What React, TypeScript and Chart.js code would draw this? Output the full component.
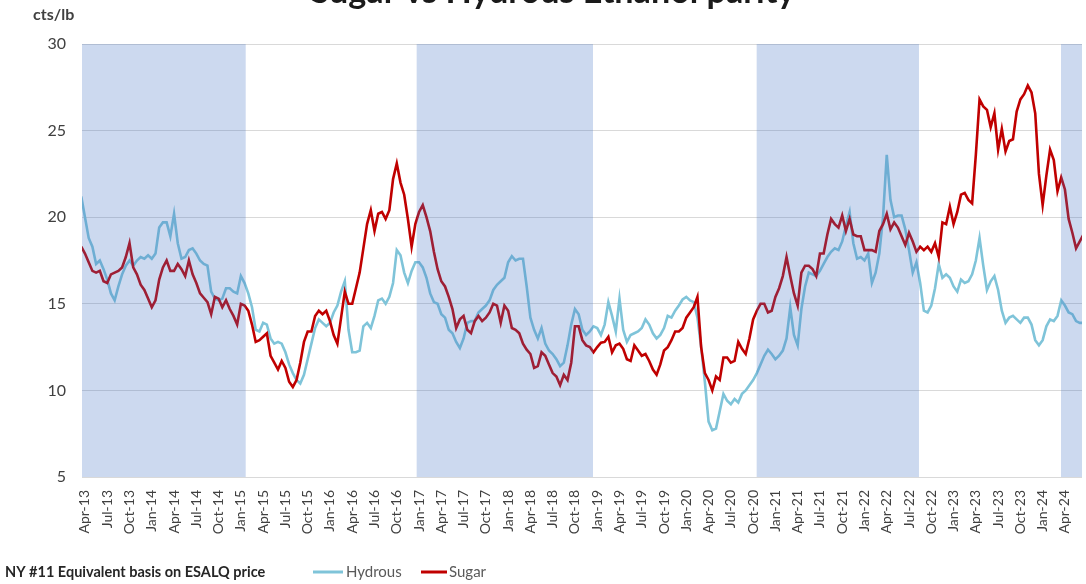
import React, { useEffect, useRef } from "react";
import { Chart, registerables } from "chart.js";

Chart.register(...registerables);

// x = months since Apr-2013, semi-monthly readings
const START_MONTH = -0.5;
const STEP_MONTH = 0.5;

const hydrous = [
  21.2,
  20.0, 18.8, 18.3, 17.3, 17.5, 17.0, 16.4, 15.6, 15.2, 16.0, 16.7, 17.2,
  17.5, 17.2, 17.5, 17.7, 17.6, 17.8, 17.6, 17.9, 19.4, 19.7, 19.7, 18.9,
  20.2, 18.5, 17.6, 17.7, 18.1, 18.2, 17.9, 17.5, 17.3, 17.2, 15.7, 15.3,
  15.2, 15.3, 15.9, 15.9, 15.7, 15.6, 16.6, 16.2, 15.6, 14.8, 13.5, 13.4,
  13.9, 13.8, 13.0, 12.7, 12.8, 12.7, 12.2, 11.5, 11.0, 10.6, 10.4, 10.9,
  11.8, 12.7, 13.6, 14.1, 13.9, 13.7, 13.9, 14.5, 14.9, 15.7, 16.3, 13.5,
  12.2, 12.2, 12.3, 13.7, 13.9, 13.6, 14.3, 15.2, 15.3, 15.0, 15.4, 16.2,
  18.1, 17.8, 16.8, 16.2, 16.9, 17.4, 17.4, 17.1, 16.5, 15.6, 15.1, 15.0,
  14.4, 14.2, 13.5, 13.3, 12.8, 12.45, 13.0, 13.9, 14.0, 14.0, 14.5, 14.7,
  14.9, 15.2, 15.8, 16.1, 16.3, 16.5, 17.4, 17.75, 17.5, 17.6, 17.6, 16.0,
  14.2, 13.5, 13.0, 13.6, 12.7, 12.3, 12.1, 11.8, 11.4, 11.6, 12.6, 13.8,
  14.7, 14.4, 13.5, 13.2, 13.4, 13.7, 13.6, 13.2, 13.8, 15.1, 14.3, 13.4,
  15.3, 13.5, 12.8, 13.2, 13.3, 13.4, 13.6, 14.1, 13.8, 13.3, 13.0, 13.2,
  13.6, 14.3, 14.2, 14.6, 14.9, 15.25, 15.4, 15.2, 15.1, 14.2, 12.5, 10.5,
  8.2, 7.7, 7.8, 8.8, 9.8, 9.4, 9.2, 9.5, 9.3, 9.8, 10.0, 10.3,
  10.6, 11.0, 11.5, 12.0, 12.35, 12.1, 11.8, 12.0, 12.3, 13.0, 14.8, 13.2,
  12.6, 14.7, 16.0, 16.8, 16.7, 16.6, 16.9, 17.3, 17.7, 18.0, 18.2, 18.1,
  18.6, 19.5, 20.3, 18.5, 17.6, 17.7, 17.5, 17.9, 16.2, 16.8, 17.9, 20.0,
  23.6, 21.0, 20.0, 20.1, 20.1, 19.3, 18.1, 16.8, 17.4, 16.2, 14.6, 14.5,
  14.9, 15.9, 17.3, 16.5, 16.7, 16.5, 16.0, 15.7, 16.4, 16.2, 16.3, 16.7,
  17.5, 18.8, 17.2, 15.8, 16.3, 16.6, 15.8, 14.6, 13.9, 14.2, 14.3, 14.1,
  13.9, 14.2, 14.2, 13.8, 12.9, 12.6, 12.9, 13.7, 14.1, 14.0, 14.3, 15.2,
  14.9, 14.5, 14.4, 14.0, 13.9, 13.9,
];

const sugar = [
  18.3,
  17.9, 17.4, 16.9, 16.8, 16.9, 16.3, 16.2, 16.7, 16.8, 16.9, 17.1, 17.7,
  18.5, 17.1, 16.7, 16.1, 15.8, 15.3, 14.8, 15.2, 16.4, 17.1, 17.5, 16.9,
  16.9, 17.3, 17.0, 16.6, 17.5, 16.7, 16.2, 15.6, 15.35, 15.1, 14.4, 15.4,
  15.3, 14.8, 15.2, 14.7, 14.3, 13.8, 15.0, 14.9, 14.6, 13.8, 12.8, 12.9,
  13.1, 13.3, 12.0, 11.6, 11.2, 11.7, 11.3, 10.5, 10.2, 10.6, 11.6, 12.8,
  13.4, 13.4, 14.3, 14.6, 14.4, 14.6, 14.0, 13.2, 12.7, 14.2, 15.7, 15.0,
  15.0, 15.9, 16.8, 18.2, 19.6, 20.4, 19.2, 20.2, 20.3, 19.9, 20.4, 22.2,
  23.1, 22.0, 21.3, 19.9, 18.3, 19.6, 20.3, 20.7, 20.0, 19.2, 18.0, 17.0,
  16.3, 16.0, 15.4, 14.7, 13.6, 14.1, 14.3, 13.5, 13.3, 14.0, 14.3, 14.0,
  14.2, 14.5, 15.0, 14.9, 13.9, 14.9, 14.6, 13.6, 13.5, 13.3, 12.7, 12.35,
  12.1, 11.3, 11.4, 12.2, 12.0, 11.5, 11.0, 10.8, 10.3, 10.9, 10.6, 11.6,
  13.7, 13.7, 12.9, 12.6, 12.5, 12.2, 12.5, 12.75, 12.8, 13.1, 12.2, 12.6,
  12.7, 12.4, 11.8, 11.7, 12.6, 12.3, 12.0, 12.1, 11.7, 11.2, 10.9, 11.5,
  12.3, 12.5, 12.9, 13.4, 13.4, 13.6, 14.2, 14.5, 14.8, 15.4, 12.5, 11.0,
  10.6, 10.0, 10.8, 10.6, 11.9, 11.9, 11.6, 11.7, 12.8, 12.4, 12.1, 13.0,
  14.1, 14.6, 15.0, 15.0, 14.5, 14.6, 15.4, 15.9, 16.6, 17.7, 16.6, 15.6,
  14.9, 16.8, 17.2, 17.2, 17.0, 16.6, 17.9, 17.9, 19.0, 19.9, 19.6, 19.4,
  20.1, 19.2, 19.9, 19.0, 18.9, 18.9, 18.1, 18.1, 18.1, 18.0, 19.2, 19.6,
  20.2, 19.3, 19.7, 19.4, 18.9, 18.4, 19.1, 18.6, 18.0, 18.3, 18.1, 18.3,
  18.0, 18.5, 17.7, 19.7, 19.6, 20.6, 19.6, 20.3, 21.3, 21.4, 21.0, 20.8,
  23.6, 26.8, 26.4, 26.2, 25.2, 26.0, 23.9, 25.1, 23.8, 24.4, 24.5, 26.1,
  26.8, 27.1, 27.6, 27.2, 26.0, 22.5, 20.7, 22.4, 23.9, 23.3, 21.5, 22.3,
  21.6, 19.9, 19.1, 18.2, 18.6, 19.0,
];

// quarterly tick labels, starting Apr-13 (month 0), every 3 months
const tickLabels = [
  "Apr-13", "Jul-13", "Oct-13",
  "Jan-14", "Apr-14", "Jul-14", "Oct-14",
  "Jan-15", "Apr-15", "Jul-15", "Oct-15",
  "Jan-16", "Apr-16", "Jul-16", "Oct-16",
  "Jan-17", "Apr-17", "Jul-17", "Oct-17",
  "Jan-18", "Apr-18", "Jul-18", "Oct-18",
  "Jan-19", "Apr-19", "Jul-19", "Oct-19",
  "Jan-20", "Apr-20", "Jul-20", "Oct-20",
  "Jan-21", "Apr-21", "Jul-21", "Oct-21",
  "Jan-22", "Apr-22", "Jul-22", "Oct-22",
  "Jan-23", "Apr-23", "Jul-23", "Oct-23",
  "Jan-24", "Apr-24",
];

// shaded periods (months since Apr-13)
const bandStarts = [-0.4, 44.68, 90.48, 131.47];
const bandEnds = [21.65, 68.43, 112.34, 134.4];

const seriesNames = ["Hydrous", "Sugar"];
const seriesColors = ["#7fc4d9", "#c00000"];

const X_MIN = -0.4;
const X_MAX = 134.3;
const FONT = "Lato, 'Noto Sans', sans-serif";

export default function App() {
  const ref = useRef<HTMLCanvasElement | null>(null);

  useEffect(() => {
    const canvas = ref.current;
    if (!canvas) return;

    const bandsPlugin = {
      id: "bands",
      afterDatasetsDraw(chart: any) {
        const { ctx, chartArea, scales } = chart;
        const xs = scales.x;
        ctx.save();
        ctx.beginPath();
        ctx.rect(chartArea.left, chartArea.top, chartArea.right - chartArea.left, chartArea.bottom - chartArea.top);
        ctx.clip();
        ctx.fillStyle = "rgba(68,114,196,0.27)";
        bandStarts.forEach((s, i) => {
          const x1 = xs.getPixelForValue(s);
          const x2 = xs.getPixelForValue(bandEnds[i]);
          ctx.fillRect(x1, chartArea.top, x2 - x1, chartArea.bottom - chartArea.top);
        });
        ctx.restore();
      },
    };

    const textPlugin = {
      id: "texts",
      afterDraw(chart: any) {
        const { ctx } = chart;
        ctx.save();
        // title (top part cut off as in the reference)
        const title = "Sugar vs Hydrous Ethanol parity";
        ctx.font = `bold 100px ${FONT}`;
        const w100 = ctx.measureText(title).width;
        const size = (100 * 485) / w100;
        ctx.font = `bold ${size}px ${FONT}`;
        ctx.fillStyle = "#1a1a1a";
        ctx.textAlign = "center";
        ctx.textBaseline = "alphabetic";
        ctx.fillText(title, 553, 3);

        // unit label
        ctx.font = `bold 16px ${FONT}`;
        ctx.fillStyle = "#404040";
        ctx.textAlign = "left";
        ctx.textBaseline = "middle";
        ctx.fillText("cts/lb", 33, 15);

        // footnote
        ctx.font = `bold 14.5px ${FONT}`;
        ctx.fillStyle = "#262626";
        ctx.fillText("NY #11 Equivalent basis on ESALQ price", 5, 572);

        // legend
        const items = [
          { x1: 313, x2: 343, tx: 346 },
          { x1: 421, x2: 447, tx: 449 },
        ];
        ctx.font = `15px ${FONT}`;
        items.forEach((it, i) => {
          ctx.strokeStyle = seriesColors[i];
          ctx.lineWidth = 3;
          ctx.beginPath();
          ctx.moveTo(it.x1, 572);
          ctx.lineTo(it.x2, 572);
          ctx.stroke();
          ctx.fillStyle = "#595959";
          ctx.fillText(seriesNames[i], it.tx, 572);
        });
        ctx.restore();
      },
    };

    const toPoints = (arr: number[]) => arr.map((v, i) => ({ x: START_MONTH + STEP_MONTH * i, y: v }));

    const chart = new Chart(canvas, {
      type: "line",
      data: {
        datasets: [
          {
            label: seriesNames[0],
            data: toPoints(hydrous),
            borderColor: seriesColors[0],
            backgroundColor: seriesColors[0],
            borderWidth: 2.6,
            pointRadius: 0,
            tension: 0,
            order: 1,
          },
          {
            label: seriesNames[1],
            data: toPoints(sugar),
            borderColor: seriesColors[1],
            backgroundColor: seriesColors[1],
            borderWidth: 2.6,
            pointRadius: 0,
            tension: 0,
            order: 0,
          },
        ],
      },
      options: {
        animation: false,
        responsive: false,
        devicePixelRatio: 1,
        layout: { padding: { top: 44, right: 4, left: 0, bottom: 0 } },
        plugins: {
          legend: { display: false },
          tooltip: { enabled: false },
          title: { display: false },
        },
        scales: {
          x: {
            type: "linear",
            min: X_MIN,
            max: X_MAX,
            grid: { display: false, drawTicks: false },
            border: { display: false },
            afterBuildTicks: (scale: any) => {
              scale.ticks = tickLabels.map((_, i) => ({ value: i * 3 }));
            },
            afterFit: (scale: any) => {
              scale.height = 107;
              scale.paddingLeft = 0;
              scale.paddingRight = 0;
            },
            ticks: {
              autoSkip: false,
              minRotation: 90,
              maxRotation: 90,
              padding: 13,
              color: "#404040",
              font: { family: FONT, size: 14 },
              callback: (_v: any, i: number) => tickLabels[i],
            },
          },
          y: {
            min: 5,
            max: 30,
            grid: { color: "#d9d9d9", lineWidth: 1, drawTicks: false },
            border: { display: false },
            afterFit: (scale: any) => {
              scale.width = 82;
              scale.paddingTop = 0;
              scale.paddingBottom = 0;
            },
            ticks: {
              stepSize: 5,
              padding: 16,
              color: "#404040",
              font: { family: FONT, size: 16 },
            },
          },
        },
      },
      plugins: [bandsPlugin, textPlugin],
    } as any);

    return () => chart.destroy();
  }, []);

  return (
    <div style={{ position: "absolute", left: 0, top: 0, width: 1086, height: 584, background: "#ffffff" }}>
      <canvas ref={ref} width={1086} height={584} style={{ width: 1086, height: 584, display: "block" }} />
    </div>
  );
}
